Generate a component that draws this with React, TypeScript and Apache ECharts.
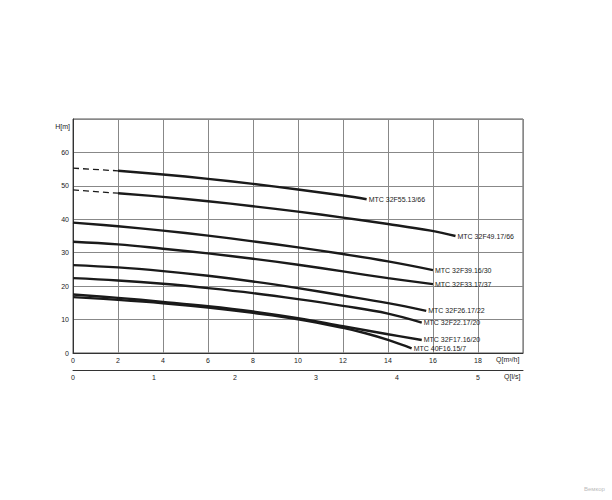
import React, { useEffect, useRef } from "react";
import * as echarts from "echarts";

// Pump curves: [Q m³/h, H m]
const curve55Dash = [[0, 55.3], [2, 54.5]];
const curve55 = [[2, 54.5], [4, 53.4], [6, 52.1], [8, 50.6], [10, 48.9], [12, 47.1], [13.05, 46.0]];
const curve49Dash = [[0, 48.8], [2, 47.8]];
const curve49 = [[2, 47.8], [4, 46.7], [6, 45.4], [8, 43.9], [10, 42.3], [12, 40.5], [14, 38.6], [15.9, 36.6], [17.0, 35.0]];
const curve39 = [[0, 39.0], [2, 37.9], [4, 36.6], [6, 35.1], [8, 33.4], [10, 31.6], [12, 29.6], [14, 27.4], [16, 24.8]];
const curve33 = [[0, 33.3], [2, 32.5], [4, 31.2], [6, 29.8], [8, 28.2], [10, 26.4], [12, 24.4], [14, 22.4], [16, 20.6]];
const curve26 = [[0, 26.3], [2, 25.6], [4, 24.5], [6, 23.1], [8, 21.4], [10, 19.4], [12, 17.2], [14, 14.9], [15.7, 12.6]];
const curve22 = [[0, 22.4], [2, 21.7], [4, 20.7], [6, 19.4], [8, 17.9], [10, 16.1], [12, 14.1], [14, 11.8], [15.5, 9.1]];
const curve17 = [[0, 17.5], [2, 16.5], [4, 15.3], [6, 14.0], [8, 12.4], [10, 10.4], [12, 8.0], [14, 5.6], [15.5, 3.9]];
const curve16 = [[0, 16.7], [2, 15.9], [4, 14.9], [6, 13.6], [8, 12.0], [10, 10.1], [12, 7.5], [13, 5.9], [14, 3.9], [15.05, 1.4]];

const seriesNames = [
  "MTC 32F55.13/66",
  "MTC 32F49.17/66",
  "MTC 32F39.16/30",
  "MTC 32F33.17/37",
  "MTC 32F26.17/22",
  "MTC 32F22.17/20",
  "MTC 32F17.16/20",
  "MTC 40F16.15/7",
];
const solidCurves = [curve55, curve49, curve39, curve33, curve26, curve22, curve17, curve16];
const dashedCurves = [curve55Dash, curve49Dash];

const FONT = "Liberation Sans, Arial, sans-serif";
const TEXT = "#222";

export default function App() {
  const ref = useRef<HTMLDivElement>(null);
  useEffect(() => {
    if (!ref.current) return;
    const chart = echarts.init(ref.current, undefined, { renderer: "svg" });
    const solid = solidCurves.map((d, i) => ({
      type: "line",
      name: seriesNames[i],
      data: d,
      xAxisIndex: 0,
      smooth: 0.4,
      showSymbol: false,
      symbol: "none",
      lineStyle: { color: "#1a1a1a", width: 2.4 },
      endLabel: {
        show: true,
        formatter: "{a}",
        fontSize: 7,
        fontFamily: FONT,
        color: TEXT,
        distance: 2,
      },
      z: 5,
    }));
    const dashed = dashedCurves.map((d) => ({
      type: "line",
      data: d,
      xAxisIndex: 0,
      showSymbol: false,
      symbol: "none",
      lineStyle: { color: "#1a1a1a", width: 1.3, type: [6, 4] },
      z: 5,
    }));
    chart.setOption({
      animation: false,
      backgroundColor: "#fff",
      textStyle: { fontFamily: FONT },
      grid: {
        left: 73,
        right: 89,
        top: 119,
        bottom: 147,
        show: true,
        borderColor: "#555",
        borderWidth: 1,
        containLabel: false,
      },
      xAxis: [
        {
          type: "value",
          min: 0,
          max: 20,
          interval: 2,
          position: "bottom",
          axisLine: { show: true, lineStyle: { color: "#333", width: 1 } },
          axisTick: { show: false },
          axisLabel: {
            fontSize: 7,
            color: TEXT,
            margin: 4,
            formatter: (v: number) => (v >= 20 ? "" : String(v)),
          },
          splitLine: { show: true, lineStyle: { color: "#888", width: 1 } },
        },
        {
          type: "value",
          min: 0,
          max: 20 / 3.6,
          interval: 1,
          position: "bottom",
          offset: 17,
          axisLine: { show: true, onZero: false, lineStyle: { color: "#333", width: 1 } },
          axisTick: { show: false },
          axisLabel: {
            fontSize: 7,
            color: TEXT,
            margin: 4,
            showMaxLabel: false,
            formatter: (v: number) => (Math.abs(v - Math.round(v)) < 1e-6 ? String(Math.round(v)) : ""),
          },
          splitLine: { show: false },
        },
      ],
      yAxis: {
        type: "value",
        min: 0,
        max: 70,
        interval: 10,
        axisLine: { show: true, lineStyle: { color: "#333", width: 1 } },
        axisTick: { show: false },
        axisLabel: {
          fontSize: 7,
          color: TEXT,
          margin: 4,
          formatter: (v: number) => (v >= 70 ? "" : String(v)),
        },
        splitLine: { show: true, lineStyle: { color: "#888", width: 1 } },
      },
      graphic: [
        {
          type: "text",
          right: 612 - 70,
          top: 123,
          style: { text: "H[m]", fontSize: 7, fill: TEXT, fontFamily: FONT },
        },
        {
          type: "text",
          left: 496,
          top: 356,
          style: { text: "Q[m³/h]", fontSize: 7, fill: TEXT, fontFamily: FONT },
        },
        {
          type: "text",
          left: 504,
          top: 373,
          style: { text: "Q[l/s]", fontSize: 7, fill: TEXT, fontFamily: FONT },
        },
        {
          type: "text",
          left: 584,
          top: 486,
          style: { text: "Вемкор", fontSize: 6, fill: "#bbb", fontFamily: FONT },
        },
      ],
      series: [...dashed, ...solid],
    });
    return () => chart.dispose();
  }, []);
  return (
    <div
      ref={ref}
      style={{ position: "fixed", left: 0, top: 0, width: 612, height: 500, background: "#fff" }}
    />
  );
}
